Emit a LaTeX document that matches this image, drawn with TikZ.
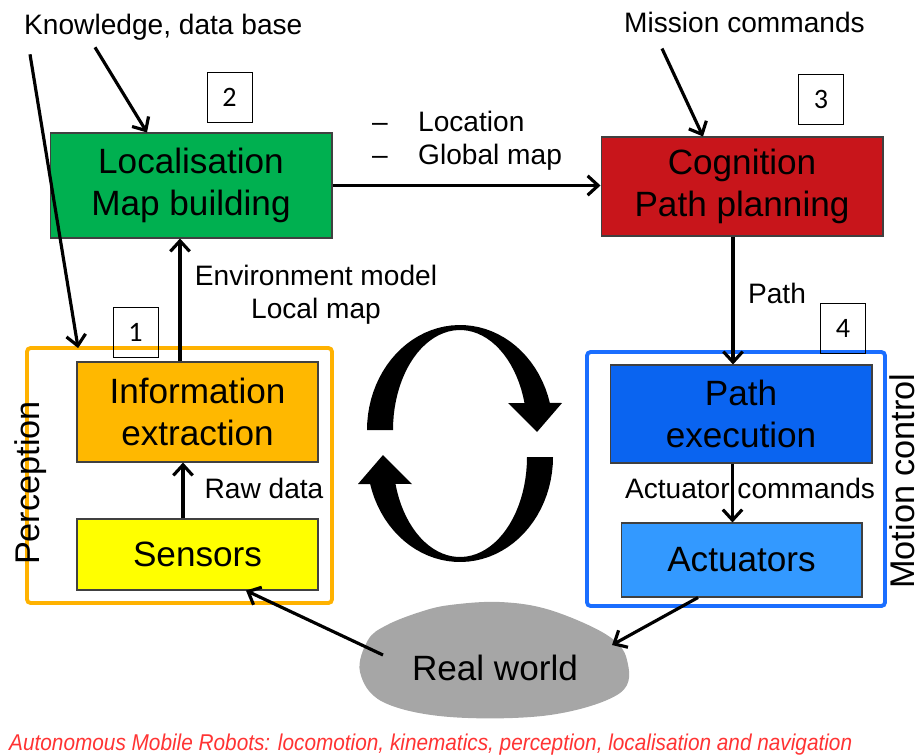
\documentclass[tikz,border=0pt]{standalone}
\usepackage{fontspec}
\setmainfont{Liberation Sans}
\newfontfamily\numfont{Carlito}
\usetikzlibrary{arrows.meta}

\definecolor{locgreen}{RGB}{0,176,80}
\definecolor{cogred}{RGB}{200,21,27}
\definecolor{infoorange}{RGB}{255,184,0}
\definecolor{percorange}{RGB}{255,178,0}
\definecolor{sensyellow}{RGB}{255,255,0}
\definecolor{exeblue}{RGB}{10,100,240}
\definecolor{actblue}{RGB}{51,153,255}
\definecolor{motblue}{RGB}{26,110,255}
\definecolor{worldgray}{RGB}{166,166,166}
\definecolor{capred}{RGB}{255,51,51}

\begin{document}
\begin{tikzpicture}[x=0.02cm,y=-0.02cm]
		\tikzset{box/.style = {draw=black!75, line width=0.6pt, align=center, font=\fontsize{20}{24}\selectfont}}
		\tikzset{frame/.style = {draw, line width=2.2pt, rounded corners=2pt, minimum width=#1}}
		\tikzset{lbl/.style = {font=\fontsize{16}{19}\selectfont, align=center}}
		\tikzset{side/.style = {rotate=90, inner sep=0pt, font=\fontsize{19.5}{24}\selectfont}}
		\tikzset{num/.style = {draw, line width=0.5pt, minimum width=0.9cm, minimum height=1cm, font=\numfont\fontsize{16}{16}\selectfont}}
		\tikzset{arr/.style = {-{Straight Barb[length=6pt,width=11pt]}, line width=1.8pt}}

		\useasboundingbox (0,0) rectangle (922,754);

		% outer frames
		\node[frame=6.1cm, draw=percorange, minimum height=5.1cm] (perc) at (179.5,475.5) {};
		\node[frame=5.96cm, draw=motblue, minimum height=5.08cm] (mot) at (736,479) {};

		\node[box, fill=locgreen, minimum width=5.64cm, minimum height=2.1cm] (loc) at (191,185.5) {Localisation\\Map building};
		\node[box, fill=cogred, minimum width=5.64cm, minimum height=1.98cm] (cog) at (742,186.5) {Cognition\\Path planning};
		\node[box, fill=infoorange, minimum width=4.82cm, minimum height=2cm] (info) at (197.5,412) {Information\\extraction};
		\node[box, fill=sensyellow, minimum width=4.82cm, minimum height=1.42cm] (sens) at (197.5,554.5) {Sensors};
		\node[box, fill=exeblue, minimum width=5.24cm, minimum height=1.96cm] (pexe) at (741,414) {Path\\execution};
		\node[box, fill=actblue, minimum width=4.82cm, minimum height=1.48cm] (act) at (741.5,560) {Actuators};

		\node[num] (N_1) at (135.5,332.5) {1};
		\node[num] (N_2) at (229.5,97.5) {2};
		\node[num] (N_3) at (821,99) {3};
		\node[num] (N_4) at (843,328) {4};

		\node[side] (perc_lbl) at (31,483) {Perception};
		\node[side] (mot_lbl) at (902,481) {Motion control};

		% real world blob
		\fill[worldgray] plot[smooth cycle, tension=0.6] coordinates {(387,625) (420,612) (450,605) (500,602) (550,610) (607,635) (627,660) (620,693) (550,715) (450,717) (383,702) (360,672) (368,640)};
		\node[font=\fontsize{20}{24}\selectfont] (world) at (495,668) {Real world};
		\coordinate (W_r) at (612,645);
		\coordinate (W_l) at (383,655);

		% see-think-act loop
		\foreach \r in {0,180}
			\fill[rotate around={\r:(460,443.5)}] plot[domain=180:15, samples=40] ({460+93*cos(\x)},{430-105*sin(\x)}) -- (562,403) -- (537,432) -- (508,403) -- plot[domain=15.6:180, samples=40] ({460+67*cos(\x)},{430-100*sin(\x)}) -- cycle;

		\node[lbl, anchor=west] (know) at (18,27) {Knowledge, data base};
		\node[lbl, anchor=west] (mission) at (618,22) {Mission commands};
		\node[lbl, align=left, anchor=west] (locmap) at (366,141) {\makebox[0.92cm][l]{--}Location\\\makebox[0.92cm][l]{--}Global map};
		\node[lbl] (envmod) at (316,295) {Environment model\\Local map};
		\node[lbl] (path) at (777,293) {Path};
		\node[lbl] (raw) at (264,488) {Raw data};
		\node[lbl] (actcmd) at (750,488) {Actuator commands};

		\draw[arr] ([shift={(12,8)}]know.south west) -- ([shift={(53,2)}]perc.north west);
		\draw[arr] ([shift={(77,1)}]know.south west) -- ([xshift=-0.88cm]loc.north);
		\draw[arr] ([shift={(44,10)}]mission.south west) -- ([xshift=-0.78cm]cog.north);
		\draw[arr] (loc.east) -- (loc.east -| cog.west);
		\draw[arr] ([xshift=-0.35cm]info.north) -- ([xshift=-0.35cm]info.north |- loc.south);
		\draw[arr] ([xshift=-0.29cm]sens.north) -- ([xshift=-0.29cm]sens.north |- info.south);
		\draw[arr] ([xshift=-0.18cm]cog.south) -- ([xshift=-0.18cm]cog.south |- pexe.north);
		\draw[arr] ([xshift=-0.17cm]pexe.south) -- ([xshift=-0.17cm]pexe.south |- act.north);
		\draw[arr] ([xshift=-0.87cm]act.south) -- (W_r);
		\draw[arr] (W_l) -- ([xshift=0.97cm]sens.south);

		\node[anchor=west, text=capred, font=\itshape\fontsize{13}{15}\selectfont] (caption) at (3,745) {\scalebox{0.91}[1]{Autonomous Mobile Robots: locomotion, kinematics, perception, localisation and navigation}};

	\end{tikzpicture}
\end{document}
